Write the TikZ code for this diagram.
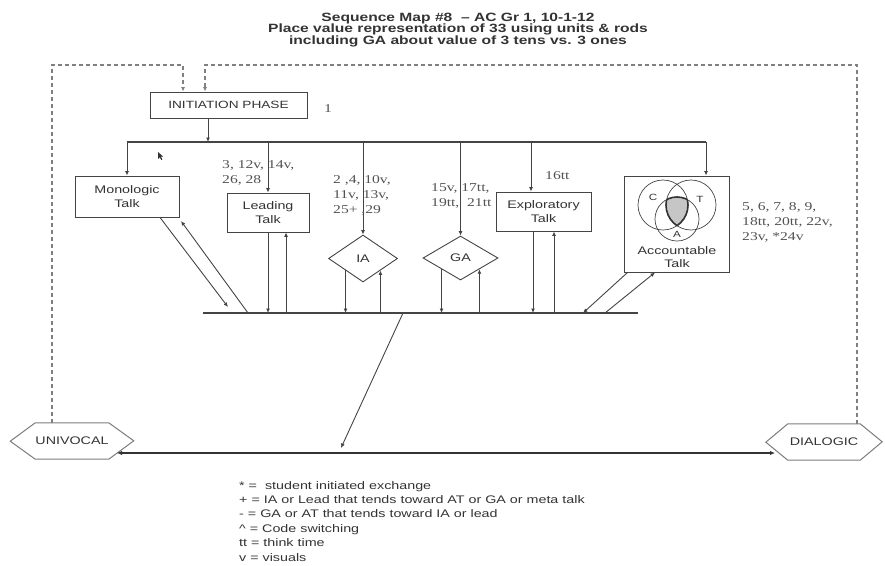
\documentclass[tikz,border=0pt]{standalone}
\usepackage{fontspec}
\setmainfont[FakeStretch=1.3]{Liberation Serif}
\setsansfont[FakeStretch=1.3]{Liberation Sans}
\usepackage{tikz}
\usetikzlibrary{shapes.geometric, arrows.meta, positioning}

\definecolor{ink}{HTML}{333333}
\definecolor{wire}{HTML}{444444}

\tikzset{
  talkbox/.style={draw=wire, line width=0.9pt, align=center, inner sep=0pt, text=ink,
    font=\sffamily\fontsize{11}{13.5}\selectfont},
  movebox/.style={diamond, draw=wire, line width=0.9pt, inner sep=0pt, text=ink,
    font=\sffamily\fontsize{11}{13.5}\selectfont},
  poletext/.style={inner sep=0pt, text=ink, font=\sffamily\fontsize{11}{13}\selectfont},
  polebox/.style={draw=wire!70, line width=1pt},
  tally/.style={align=left, inner sep=0pt, text=ink!85, font=\fontsize{12}{15}\selectfont},
  keytext/.style={align=left, inner sep=0pt, text=ink, font=\sffamily\fontsize{11}{14.4}\selectfont},
  venn/.style={inner sep=0pt, text=ink, font=\sffamily\fontsize{9}{10}\selectfont},
  flow/.style={draw=wire, line width=0.9pt, -{Latex[length=4.5pt,width=4pt]}},
  barline/.style={draw=wire, line width=1.8pt},
  loopline/.style={draw=gray, line width=1.1pt, dash pattern=on 4pt off 3pt,
    -{Latex[length=4.5pt,width=4pt]}},
  axisline/.style={draw=ink, line width=2.2pt, {Latex[length=5pt,width=4.5pt]}-{Latex[length=5pt,width=4.5pt]}}
}

\begin{document}
\begin{tikzpicture}[x=1pt,y=-1pt]
\useasboundingbox (0,0) rectangle (885,565);

\node (title) [align=center, text=ink, font=\sffamily\bfseries\fontsize{12}{11.3}\selectfont] at (458,30)
  {Sequence Map \#8 \ -- AC Gr 1, 10-1-12\\Place value representation of 33 using units \& rods\\including GA about value of 3 tens vs. 3 ones};

% talk boxes
\node (init) [talkbox, minimum width=157pt, minimum height=26pt, font=\sffamily\fontsize{10.5}{12}\selectfont] at (228.5,105) {INITIATION PHASE};
\node (mono) [talkbox, minimum width=104pt, minimum height=41pt] at (127,196.5) {Monologic\\Talk};
\node (lead) [talkbox, minimum width=82pt, minimum height=39pt] at (268,212.5) {Leading\\Talk};
\node (ia) [movebox, minimum width=69pt, minimum height=47pt] at (363,258.5) {IA};
\node (ga) [movebox, minimum width=75pt, minimum height=44pt] at (460.5,258) {GA};
\node (expl) [talkbox, minimum width=95pt, minimum height=39pt] at (543.5,211.5) {Exploratory\\Talk};
\node (acct) [talkbox, minimum width=105pt, minimum height=96pt] at (676.5,224) {};
\node (acctlbl) [talkbox, draw=none] at (677,257) {Accountable\\Talk};

% venn inside accountable talk
\coordinate (vc) at (663,205);
\coordinate (vt) at (691,205);
\coordinate (va) at (677,219);
\begin{scope}
  \clip (vc) circle (25pt);
  \clip (vt) circle (25pt);
  \fill[gray!45] (va) circle (22pt);
\end{scope}
\foreach \v/\r in {vc/25,vt/25,va/22} \draw[wire, line width=0.7pt] (\v) circle (\r pt);
\foreach \a/\ra/\b/\rb/\c/\rc in {vc/25/vt/25/va/22, vt/25/va/22/vc/25, va/22/vc/25/vt/25} {
  \begin{scope}
    \clip (\b) circle (\rb pt);
    \clip (\c) circle (\rc pt);
    \draw[ink, line width=1.6pt] (\a) circle (\ra pt);
  \end{scope}
}
\node (vlc) [venn] at (653,197) {C};
\node (vlt) [venn] at (700,199) {T};
\node (vla) [venn] at (677,234.5) {A};

% poles
\node (univ) [poletext, minimum width=70pt, minimum height=36pt] at (72,441) {UNIVOCAL};
\draw[polebox] (univ.north west) -- (univ.north east) -- ++(25,18) -- (univ.south east) -- (univ.south west) -- ++(-25,-18) -- cycle;
\node (dial) [poletext, minimum width=72pt, minimum height=36pt] at (824,442) {DIALOGIC};
\draw[polebox] (dial.north west) -- (dial.north east) -- ++(22,18) -- (dial.south east) -- (dial.south west) -- ++(-22,-18) -- cycle;

% feedback loops
\coordinate (loopL) at (52,65);
\coordinate (loopR) at (857,65);
\draw[loopline] ([xshift=-20pt]univ.north) -- (loopL) -| ([xshift=-45.5pt]init.north);
\draw[loopline] ([xshift=33pt]dial.north) -- (loopR) -| ([xshift=-23.5pt]init.north);

% split bar
\coordinate (splitL) at (127,142);
\coordinate (splitR) at (706,142);
\coordinate (initOut) at ([xshift=-20.5pt]init.south);
\coordinate (explTop) at ([xshift=-12.5pt]expl.north);
\draw[barline] (splitL) -- (splitR);
\draw[flow] (initOut) -- (initOut |- splitL);
\draw[flow] (splitL) -- (mono.north);
\foreach \n in {lead, ia, ga} \draw[flow] (\n.north |- splitL) -- (\n.north);
\draw[flow] (explTop |- splitL) -- (explTop);
\draw[flow] (splitR) -- (splitR |- acct.north);

% join bar
\coordinate (hubL) at (203,313);
\coordinate (hubR) at (638,313);
\draw[barline] (hubL) -- (hubR);

\coordinate (monoEnd) at (228,307);
\coordinate (monoBack) at (248,313);
\coordinate (monoTip) at (181,221);
\draw[flow] ([xshift=33pt]mono.south) -- (monoEnd);
\draw[flow] (monoBack) -- (monoTip);

\coordinate (leadIn) at ([xshift=18pt]lead.south);
\draw[flow] (lead.south) -- (lead.south |- hubL);
\draw[flow] (leadIn |- hubL) -- (leadIn);

\foreach \n in {ia, ga} {
  \draw[flow] (\n.south west) -- (\n.south west |- hubL);
  \draw[flow] (\n.south east |- hubL) -- (\n.south east);
}

\coordinate (explOut) at ([xshift=-10.5pt]expl.south);
\coordinate (explIn) at ([xshift=10.5pt]expl.south);
\draw[flow] (explOut) -- (explOut |- hubL);
\draw[flow] (explIn |- hubL) -- (explIn);

\coordinate (acctEnd) at (583,313);
\coordinate (acctBack) at (605,313);
\draw[flow] ([xshift=4pt]acct.south west) -- (acctEnd);
\draw[flow] (acctBack) -- ([xshift=-21.5pt]acct.south);

% continuum
\coordinate (hubMid) at (403,313);
\coordinate (axisPt) at (341,448);
\coordinate (axisL) at (117,453);
\coordinate (axisR) at (775,453);
\draw[axisline] (axisL) -- (axisR);
\draw[flow] (hubMid) -- (axisPt);

% exchange numbers
\node (n1) [tally, anchor=west] at (324,109) {1};
\node (nlead) [tally, anchor=west] at (222,172.5) {3, 12v, 14v,\\26, 28};
\node (nia) [tally, anchor=west] at (333,195) {2 ,4, 10v,\\11v, 13v,\\25+ ,29};
\node (nga) [tally, anchor=west] at (431,195.5) {15v, 17tt,\\19tt, \ 21tt};
\node (nexpl) [tally, anchor=west] at (545,176) {16tt};
\node (nacct) [tally, anchor=west] at (742,222) {5, 6, 7, 8, 9,\\18tt, 20tt, 22v,\\23v, *24v};

% pointer
\fill[ink] (158,152) -- (158,159) -- (159.8,157.2) -- (161.3,160) -- (162.4,159.4) -- (160.9,156.6) -- (163.2,156.6) -- cycle;

\node (legend) [keytext, anchor=north west] at (239,481)
  {* = \ student initiated exchange\\+ = IA or Lead that tends toward AT or GA or meta talk\\- = GA or AT that tends toward IA or lead\\\textasciicircum{} = Code switching\\tt = think time\\v = visuals};
\end{tikzpicture}
\end{document}
